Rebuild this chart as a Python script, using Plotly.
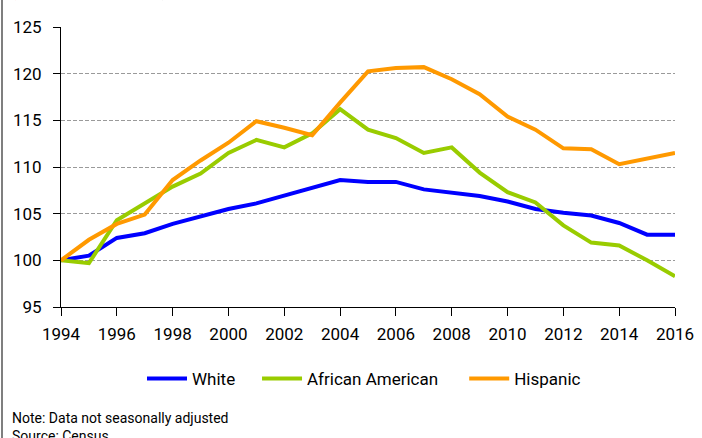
import plotly.graph_objects as go

years = list(range(1994, 2017))
white = [100.0, 100.5, 102.4, 102.9, 103.9, 104.7, 105.5, 106.1, 106.9, 107.75, 108.6, 108.4,
         108.4, 107.6, 107.3, 106.9, 106.3, 105.5, 105.1, 104.8, 104.0, 102.75, 102.75]
african_american = [100.0, 99.7, 104.3, 106.1, 107.9, 109.3, 111.5, 112.9, 112.1, 113.6, 116.2, 114.0,
                    113.1, 111.5, 112.1, 109.4, 107.3, 106.2, 103.75, 101.9, 101.6, 100.0, 98.3]
hispanic = [100.0, 102.2, 103.9, 104.9, 108.6, 110.7, 112.6, 114.9, 114.2, 113.4, 116.9, 120.25,
            120.6, 120.7, 119.4, 117.8, 115.4, 114.0, 112.0, 111.9, 110.3, 110.9, 111.5]
series_names = ["White", "African American", "Hispanic"]
x_ticks = list(range(1994, 2017, 2))
y_ticks = [95, 100, 105, 110, 115, 120, 125]

FONT = "Roboto, Liberation Sans, sans-serif"
NB = "\u00a0"

fig = go.Figure()
pads = [NB * 4, NB * 5, ""]
for name, vals, col, pad in zip(series_names, [white, african_american, hispanic],
                                ["#0000FF", "#99CC00", "#FF9900"], pads):
    fig.add_trace(go.Scatter(x=years, y=vals, mode="lines", name=name + pad,
                             line=dict(color=col, width=4)))

L, R, T, B = 61, 27, 27, 131
W, H = 702, 438
pw, ph = W - L - R, H - T - B


def px_x(p):
    return (p - L) / pw


def px_y(p):
    return 1 - (p - T) / ph


fig.update_layout(
    width=W, height=H,
    margin=dict(l=L, r=R, t=T, b=B, autoexpand=False),
    paper_bgcolor="white", plot_bgcolor="white",
    font=dict(family=FONT, color="black", size=17),
    showlegend=True,
    legend=dict(orientation="h", x=px_x(142), xanchor="left", y=px_y(361), yanchor="top",
                font=dict(size=17), itemwidth=40, tracegroupgap=0,
                bgcolor="rgba(0,0,0,0)"),
    xaxis=dict(range=[1994, 2016], tickvals=x_ticks, showgrid=False,
               showline=True, linecolor="black", linewidth=1,
               ticks="outside", ticklen=8, tickcolor="black",
               tickfont=dict(size=17), zeroline=False, ticklabelstandoff=4),
    yaxis=dict(range=[95, 125], tickvals=y_ticks, showgrid=True,
               gridcolor="#9a9a9a", griddash="4px,2px", gridwidth=1,
               showline=True, linecolor="black", linewidth=1,
               ticks="outside", ticklen=7, tickcolor="black",
               tickfont=dict(size=17), zeroline=False, ticklabelstandoff=8),
)

# Outer left frame line
fig.add_shape(type="line", xref="paper", yref="paper",
              x0=px_x(2), x1=px_x(2), y0=px_y(H), y1=px_y(0),
              line=dict(color="#555555", width=1.5))

fig.add_annotation(text="(Index 1994 = 100)", xref="paper", yref="paper",
                   x=px_x(8), y=px_y(3), xanchor="left", yanchor="bottom",
                   showarrow=False, font=dict(size=19))
fig.add_annotation(text="Note: Data not seasonally adjusted", xref="paper", yref="paper",
                   x=px_x(10), y=px_y(418), xanchor="left", yanchor="middle",
                   showarrow=False, font=dict(size=14))
fig.add_annotation(text="Source: Census", xref="paper", yref="paper",
                   x=px_x(10), y=px_y(436), xanchor="left", yanchor="middle",
                   showarrow=False, font=dict(size=14))

fig.write_html("out.html", config={"displayModeBar": False},
               post_script="document.body.style.margin='0';")
